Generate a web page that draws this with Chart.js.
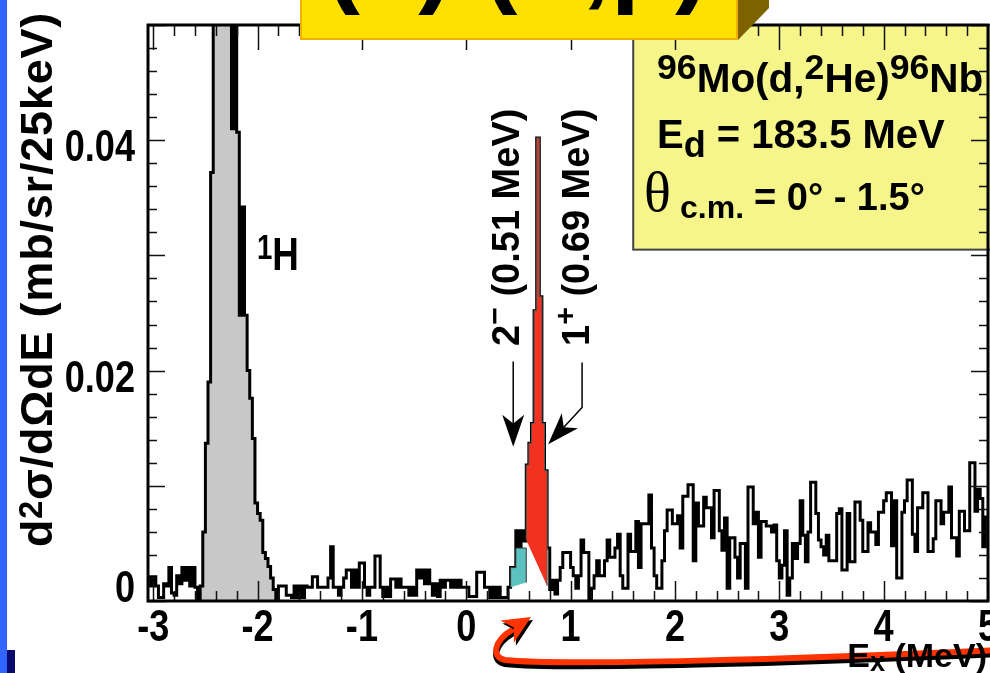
<!DOCTYPE html>
<html>
<head>
<meta charset="utf-8">
<title>96Mo(d,2He)96Nb excitation spectrum</title>
<script src="https://cdn.jsdelivr.net/npm/chart.js@4.4.4/dist/chart.umd.min.js"></script>
<style>
  html, body { margin: 0; padding: 0; background: #fff; overflow: hidden; }
  #stage { position: relative; width: 990px; height: 673px; overflow: hidden; }
  #spec { position: absolute; left: 0; top: 0; }
  .txt { position: absolute; margin: 0; font-family: "Liberation Sans", Arial, sans-serif; font-weight: bold;
         line-height: 1; white-space: nowrap; color: #000; }
  .txt sup, .txt sub { line-height: 0; }
  .rot { transform: rotate(-90deg); transform-origin: 0 0; }
  .squeeze { transform: scaleX(0.8); transform-origin: 0 0; }
  .strip { position: absolute; }
</style>
</head>
<body>
<div id="stage">
  <canvas id="spec" width="990" height="673"></canvas>

  <div class="strip" style="left:0;top:0;width:7px;height:673px;background:#3264ff"></div>
  <div class="strip" style="left:7px;top:650px;width:8px;height:23px;background:#0a0a6e"></div>

  <div class="txt" style="left:325px;top:-96px;font-size:105px;">(a) (n,p)</div>

  <div class="txt rot" style="left:14px;top:547px;font-size:45px;letter-spacing:0.8px;">d<sup style="font-size:.72em;vertical-align:.3em">2</sup>σ/dΩdE (mb/sr/25keV)</div>
  <div class="txt" style="right:3px;top:638px;font-size:34px;">E<sub style="font-size:.8em;vertical-align:-.15em">x</sub> (MeV)</div>

  <div class="txt squeeze" style="left:257px;top:231px;font-size:46px;"><sup style="font-size:.75em;vertical-align:.32em">1</sup>H</div>

  <div class="txt rot" style="left:487px;top:346px;font-size:38px;">2<sup style="font-size:.8em;vertical-align:.45em">−</sup> (0.51 MeV)</div>
  <div class="txt rot" style="left:557px;top:346px;font-size:38px;">1<sup style="font-size:.8em;vertical-align:.45em">+</sup> (0.69 MeV)</div>

  <div class="txt" style="left:657px;top:58px;font-size:40.5px;"><sup style="font-size:.88em;vertical-align:.36em">96</sup>Mo(d,<sup style="font-size:.88em;vertical-align:.36em">2</sup>He)<sup style="font-size:.88em;vertical-align:.36em">96</sup>Nb</div>
  <div class="txt" style="left:657px;top:114px;font-size:40px;">E<sub style="font-size:.9em;vertical-align:-.25em">d</sub> = 183.5 MeV</div>
  <div class="txt" style="left:644px;top:164px;font-size:56px;font-family:'Liberation Serif',serif;font-weight:normal;">θ</div>
  <div class="txt" style="left:680px;top:191px;font-size:32px;">c.m.</div>
  <div class="txt" style="left:754px;top:178px;font-size:38px;">= 0° - 1.5°</div>
</div>

<script>
// ── Binning and axes ───────────────────────────────────────────────────────
const BIN     = 0.025;   // MeV per channel (25 keV)
const X_FIRST = -3.05;   // lower edge of channel 0
const X_LAST  = 5.0;
const Y_MAX   = 0.05;
const UNIT    = 1e-4;    // spectrum values are in 1e-4 mb/sr/25keV

const xTickLabels = [-3, -2, -1, 0, 1, 2, 3, 4, 5];
const yTickLabels = [0, 0.02, 0.04];
const xMinorStep = 0.2,   xMajorStep = 1;
const yMinorStep = 0.002, yMajorStep = 0.01;

// ── Measured spectrum, one value per 25 keV channel from -3.05 MeV ─────────
const spectrum = [
  // -3.05 .. -2.55
  21, 13, 21, 13, 3, 3, 15, 13, 29, 7, 5, 22, 15, 29, 18, 29, 13, 29, 12, 2, 13,
  // -2.525 .. -1.825  (1H contaminant, top is off scale)
  60, 137, 190, 372, 560, 720, 850, 930, 950, 900, 700, 410, 560, 407, 248, 342, 248, 200, 176, 141,
  85, 76, 70, 42, 37, 30, 20, 10, 2,
  // -1.8 .. -1.075
  13, 13, 13, 5, 5, 3, 13, 3, 13, 3, 13, 12, 12, 21, 21, 12, 12, 12, 12, 20,
  47, 12, 12, 5, 12, 20, 27, 27, 12, 27,
  // -1.05 .. -0.325
  12, 33, 33, 12, 5, 12, 12, 39, 39, 12, 4, 12, 4, 19, 19, 12, 19, 12, 12, 12,
  5, 12, 5, 27, 20, 27, 15, 27, 15, 5,
  // -0.3 .. 0.4
  15, 4, 18, 12, 18, 18, 12, 18, 12, 18, 12, 12, 12, 4, 4, 4, 25, 25, 25, 12,
  12, 3, 12, 3, 12, 3, 3, 3, 12,
  // 0.425 .. 0.95  (2- and 1+ states)
  29, 29, 61, 46, 61, 52, 118, 137, 154, 252, 402, 264, 154, 113, 46, 10, 18, 6, 18, 29, 42, 42,
  // 0.975 .. 1.75
  42, 29, 22, 11, 22, 53, 42, 42, 0, 11, 22, 35, 22, 22, 35, 53, 38, 38, 46, 58,
  22, 11, 11, 58, 43, 43, 69, 29, 67, 67, 67, 92,
  // 1.775 .. 2.8
  46, 22, 11, 11, 35, 61, 79, 79, 67, 67, 74, 46, 91, 91, 101, 101, 35, 85, 65, 65,
  90, 81, 81, 55, 96, 96, 61, 44, 72, 11, 55, 55, 38, 20, 50, 50, 11, 99, 99, 67, 77, 38,
  // 2.825 .. 3.0
  69, 69, 65, 65, 60, 66, 35, 20,
  // 3.025 .. 4.975
  31, 61, 5, 20, 50, 37, 50, 87, 57, 34, 60, 103, 103, 76, 53, 47, 40, 57, 35, 35,
  35, 76, 80, 27, 27, 76, 34, 34, 86, 86, 70, 43, 43, 68, 60, 60, 49, 77, 77, 87,
  94, 94, 48, 87, 20, 20, 77, 87, 105, 105, 58, 43, 81, 81, 94, 94, 43, 43, 54, 87,
  87, 67, 77, 77, 99, 55, 55, 39, 78, 78, 61, 61, 120, 120, 78, 97, 89, 47, 73,
];

// 1H peak region shaded grey
const hPeakRange = [-2.55, -1.825];

// 2- (0.51 MeV) component: channels from 0.425 MeV, plus first/last outline points
const comp2mStart  = 0.425;
const comp2mValues = [29, 29, 46, 46, 46, 46];
const comp2mEnds   = [12, 16];

// 1+ (0.69 MeV) component: channels from 0.575 MeV
const comp1pStart  = 0.575;
const comp1pValues = [118, 137, 154, 252, 402, 264, 154, 113];
const comp1pEnds   = [53, 13];

// ── Build line points (step histograms) ───────────────────────────────────
const histPts = spectrum.map((v, i) => ({ x: X_FIRST + i * BIN, y: v * UNIT }));
histPts.push({ x: X_FIRST + spectrum.length * BIN, y: spectrum[spectrum.length - 1] * UNIT });

const hPeakPts = histPts.filter(p => p.x >= hPeakRange[0] - 1e-9 && p.x <= hPeakRange[1] + 1e-9);

function componentPts(start, values, ends) {
  const pts = [{ x: start, y: ends[0] * UNIT }];
  values.forEach((v, i) => pts.push({ x: start + i * BIN, y: v * UNIT }));
  pts.push({ x: start + values.length * BIN, y: ends[1] * UNIT });
  return pts;
}

// ── Drawing helpers ───────────────────────────────────────────────────────
const LABEL_FONT = 'bold 44px "Liberation Sans", Arial, sans-serif';
const LABEL_SQUEEZE = 0.82;   // condensed look of the axis numbers

function squeezedText(ctx, text, x, y, align) {
  ctx.save();
  ctx.translate(x, y);
  ctx.scale(LABEL_SQUEEZE, 1);
  ctx.textAlign = align;
  ctx.fillText(text, 0, 0);
  ctx.restore();
}

function arrowHead(ctx, x, y, angle, len, half) {
  ctx.save();
  ctx.translate(x, y);
  ctx.rotate(angle);
  ctx.beginPath();
  ctx.moveTo(0, 0);
  ctx.lineTo(-len, -half);
  ctx.lineTo(-len * 0.72, 0);
  ctx.lineTo(-len, half);
  ctx.closePath();
  ctx.fill();
  ctx.restore();
}

const decor = {
  id: 'decor',
  beforeDatasetsDraw(chart) {
    // info box behind the data, under the frame ticks
    const { ctx, chartArea: a, scales: { x, y } } = chart;
    const left = x.getPixelForValue(1.6), bottom = y.getPixelForValue(0.0305);
    ctx.save();
    ctx.fillStyle = '#f6f58a';
    ctx.fillRect(left, a.top, 400, bottom - a.top);
    ctx.strokeStyle = '#444';
    ctx.lineWidth = 2;
    ctx.strokeRect(left, a.top, 400, bottom - a.top);
    ctx.restore();
  },
  afterDatasetsDraw(chart) {
    const { ctx, chartArea: a, scales: { x, y } } = chart;
    ctx.save();

    // inner ticks on all four sides
    ctx.strokeStyle = '#111';
    ctx.lineWidth = 1.5;
    ctx.beginPath();
    for (let k = Math.ceil(X_FIRST / xMinorStep); k * xMinorStep <= X_LAST + 1e-9; k++) {
      const v = k * xMinorStep;
      const px = Math.round(x.getPixelForValue(v)) + 0.5;
      const major = Math.abs(v / xMajorStep - Math.round(v / xMajorStep)) < 1e-6;
      ctx.moveTo(px, a.bottom); ctx.lineTo(px, a.bottom - (major ? 20 : 10));
      ctx.moveTo(px, a.top);    ctx.lineTo(px, a.top + (major ? 25 : 11));
    }
    for (let k = 0; k * yMinorStep <= Y_MAX + 1e-9; k++) {
      const v = k * yMinorStep;
      const py = Math.round(y.getPixelForValue(v)) + 0.5;
      const major = Math.abs(v / yMajorStep - Math.round(v / yMajorStep)) < 1e-6;
      ctx.moveTo(a.left, py);  ctx.lineTo(a.left + (major ? 17 : 9), py);
      ctx.moveTo(a.right, py); ctx.lineTo(a.right - (major ? 17 : 9), py);
    }
    ctx.stroke();

    // frame
    ctx.strokeStyle = '#000';
    ctx.lineWidth = 3;
    ctx.strokeRect(a.left, a.top, a.right - a.left, a.bottom - a.top);

    // axis numbers
    ctx.font = LABEL_FONT;
    ctx.fillStyle = '#000';
    ctx.textBaseline = 'alphabetic';
    xTickLabels.forEach(v => squeezedText(ctx, String(v), x.getPixelForValue(v), a.bottom + 40, 'center'));
    yTickLabels.forEach(v => squeezedText(ctx, v === 0 ? '0' : v.toFixed(2),
      a.left - 13, y.getPixelForValue(v) + (v === 0 ? 1 : 21), 'right'));

    // arrows to the 2- and 1+ states
    ctx.fillStyle = '#000';
    ctx.lineWidth = 1.5;
    const lx = x.getPixelForValue(0.45);
    const lTip = y.getPixelForValue(0.0134);
    ctx.beginPath();
    ctx.moveTo(lx, y.getPixelForValue(0.0208));
    ctx.lineTo(lx, lTip - 20);
    ctx.stroke();
    arrowHead(ctx, lx, lTip, Math.PI / 2, 32, 11);

    const rx = x.getPixelForValue(1.11);
    const rKnee = y.getPixelForValue(0.0168);
    const tipX = x.getPixelForValue(0.785), tipY = y.getPixelForValue(0.0136);
    const ang = Math.atan2(tipY - rKnee, tipX - rx);
    ctx.beginPath();
    ctx.moveTo(rx, y.getPixelForValue(0.0207));
    ctx.lineTo(rx, rKnee);
    ctx.lineTo(tipX - 20 * Math.cos(ang), tipY - 20 * Math.sin(ang));
    ctx.stroke();
    arrowHead(ctx, tipX, tipY, ang, 32, 11);
    ctx.restore();
  },
  afterDraw(chart) {
    const { ctx } = chart;
    ctx.save();
    // label box across the top edge
    ctx.fillStyle = '#ffe000';
    ctx.fillRect(301, -10, 436, 49);
    ctx.strokeStyle = '#f0b000';
    ctx.lineWidth = 2;
    ctx.strokeRect(301, -10, 436, 49);
    ctx.fillStyle = '#7d6200';
    ctx.beginPath();
    ctx.moveTo(738, 0); ctx.lineTo(769, 0); ctx.lineTo(769, 8); ctx.lineTo(738, 40);
    ctx.closePath();
    ctx.fill();

    // curved pointer along the bottom
    const path = (dy) => {
      ctx.beginPath();
      ctx.moveTo(1000, 650 + dy);
      ctx.bezierCurveTo(800, 659 + dy, 560, 666 + dy, 505, 660 + dy);
      ctx.bezierCurveTo(490, 657 + dy, 495, 640 + dy, 512, 630 + dy);
    };
    ctx.lineWidth = 6;
    ctx.lineCap = 'round';
    ctx.strokeStyle = '#000';
    path(4); ctx.stroke();
    ctx.strokeStyle = '#ff3300';
    path(0); ctx.stroke();
    ctx.fillStyle = '#000';
    arrowHead(ctx, 533, 620, -0.55, 28, 13);
    ctx.fillStyle = '#ff3300';
    arrowHead(ctx, 531, 617, -0.55, 28, 13);
    ctx.restore();
  },
};

new Chart(document.getElementById('spec'), {
  type: 'line',
  data: {
    // first dataset is painted last: components sit over the measured outline
    datasets: [
      { label: '1+', data: componentPts(comp1pStart, comp1pValues, comp1pEnds), borderColor: '#555',
        borderWidth: 1, backgroundColor: '#f2321f', fill: 'shape', stepped: 'before', pointRadius: 0 },
      { label: '2-', data: componentPts(comp2mStart, comp2mValues, comp2mEnds), borderColor: '#333',
        borderWidth: 1, backgroundColor: '#5cc2c0', fill: 'shape', stepped: 'before', pointRadius: 0 },
      { label: 'data', data: histPts, borderColor: '#000', borderWidth: 3, fill: false,
        stepped: 'before', pointRadius: 0 },
      { label: '1H', data: hPeakPts, borderWidth: 0, backgroundColor: '#c8c8c8', fill: 'origin',
        stepped: 'before', pointRadius: 0 },
    ],
  },
  options: {
    responsive: false,
    animation: false,
    events: [],
    layout: { padding: { top: 25, right: 2, left: 0, bottom: 0 } },
    plugins: { legend: { display: false }, tooltip: { enabled: false } },
    scales: {
      x: {
        type: 'linear', min: X_FIRST, max: X_LAST,
        grid: { display: false }, border: { display: false },
        ticks: { display: false },
        afterFit: s => { s.height = 72; s.paddingLeft = 0; s.paddingRight = 0; },
      },
      y: {
        type: 'linear', min: 0, max: Y_MAX,
        grid: { display: false }, border: { display: false },
        ticks: { display: false },
        afterFit: s => { s.width = 148; s.paddingTop = 0; s.paddingBottom = 0; },
      },
    },
  },
  plugins: [decor],
});
</script>
</body>
</html>
